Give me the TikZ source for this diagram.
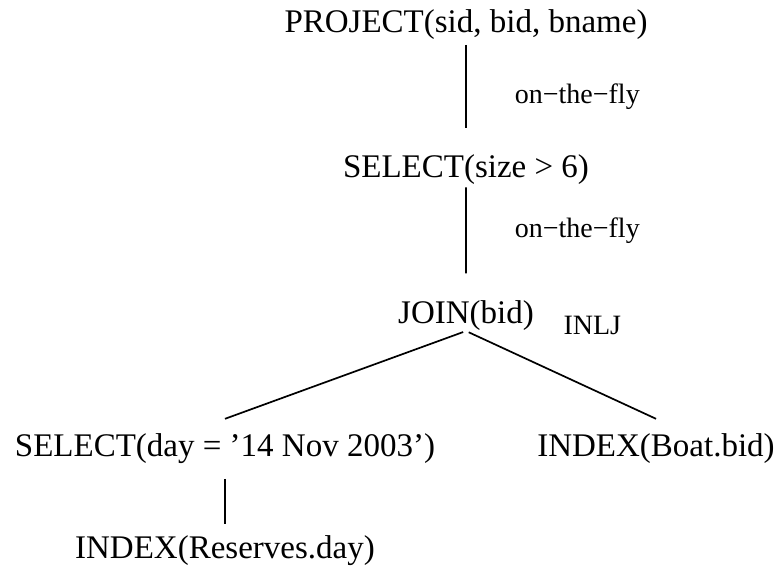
\documentclass[tikz,border=0pt]{standalone}
\usepackage{fontspec}
\setmainfont{Liberation Serif}
\tikzset{
op/.style={anchor=base, inner sep=0pt, font=\fontsize{33}{40}\selectfont},
note/.style={inner sep=0pt, font=\fontsize{28}{34}\selectfont}
}

\begin{document}
\begin{tikzpicture}[x=1pt, y=-1pt, line width=1.7pt,
	parent anchor=south, child anchor=north,
	level 1/.style={level distance=153.5pt, edge from parent/.style={draw, shorten <=5pt, shorten >=26pt}},
	level 2/.style={level distance=153.5pt, edge from parent/.style={draw, shorten <=2pt, shorten >=26pt}},
	level 3/.style={level distance=141.5pt, sibling distance=431pt,
		edge from parent/.style={draw, shorten <=3pt}},
	level 4/.style={level distance=110pt, edge from parent/.style={draw, shorten >=11pt}}]
	\useasboundingbox (0,0) rectangle (780,566);
	\node[op] (proj) at (466,32) {PROJECT(sid, bid, bname)}
	child { node[op] (sel) {SELECT(size > 6)}
		child { node[op, label={[note, name=inlj, label distance=28pt, yshift=-10pt]east:INLJ}] (join) {JOIN(bid)}
			child { node[op, xshift=-25.5pt, outer ysep=15pt] (selday) {SELECT(day = ’14 Nov 2003’)}
				child { node[op] (resv) {INDEX(Reserves.day)} }
			}
			child { node[op, xshift=-25.5pt, outer ysep=15pt] (boat) {INDEX(Boat.bid)} }
			edge from parent node[note, anchor=west, xshift=48pt, yshift=12pt] (fly2) {on−the−fly}
		}
		edge from parent node[note, anchor=west, xshift=48pt] (fly1) {on−the−fly}
	};
\end{tikzpicture}
\end{document}
